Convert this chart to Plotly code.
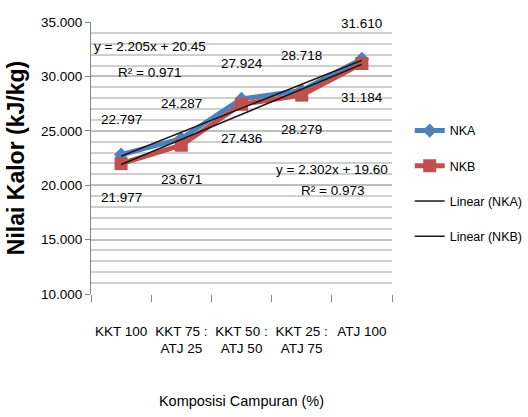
import numpy as np
import plotly.graph_objects as go

categories = ["KKT 100", "KKT 75 :<br>ATJ 25", "KKT 50 :<br>ATJ 50", "KKT 25 :<br>ATJ 75", "ATJ 100"]
nka = [22.797, 24.287, 27.924, 28.718, 31.610]
nkb = [21.977, 23.671, 27.436, 28.279, 31.184]
y_ticks = [10, 15, 20, 25, 30, 35]
y_tick_labels = ["10.000", "15.000", "20.000", "25.000", "30.000", "35.000"]
eq_nka = ["y = 2.205x + 20.45", "R² = 0.971"]
eq_nkb = ["y = 2.302x + 19.60", "R² = 0.973"]

FONT = "Liberation Sans, Arial, sans-serif"
BLUE = "#4F81BD"
RED = "#C0504D"
FS = 13.5

xs = np.arange(1, len(categories) + 1)
fit_a = np.polyfit(xs, nka, 1)
fit_b = np.polyfit(xs, nkb, 1)
trend_a = np.polyval(fit_a, xs)
trend_b = np.polyval(fit_b, xs)

fig = go.Figure()
fig.add_trace(go.Scatter(x=categories, y=nka, name="NKA", mode="lines+markers",
                         line=dict(color=BLUE, width=5),
                         marker=dict(symbol="diamond", size=11, color=BLUE),
                         legendgroup="a"))
fig.add_trace(go.Scatter(x=categories, y=nkb, name="NKB", mode="lines+markers",
                         line=dict(color=RED, width=5),
                         marker=dict(symbol="square", size=13, color=RED),
                         legendgroup="b"))
fig.add_trace(go.Scatter(x=categories, y=trend_a, name="Linear (NKA)", mode="lines",
                         line=dict(color="#1a1a1a", width=1.5), legendgroup="c"))
fig.add_trace(go.Scatter(x=categories, y=trend_b, name="Linear (NKB)", mode="lines",
                         line=dict(color="#1a1a1a", width=1.5), legendgroup="d"))

annotations = []
for i, v in enumerate(nka):
    annotations.append(dict(x=i, y=v, xref="x", yref="y", text=f"{v:.3f}", showarrow=False,
                            yshift=35, font=dict(family=FONT, size=FS, color="black")))
for i, v in enumerate(nkb):
    annotations.append(dict(x=i, y=v, xref="x", yref="y", text=f"{v:.3f}", showarrow=False,
                            yshift=-34, font=dict(family=FONT, size=FS, color="black")))

for txt, yy in zip(eq_nka, [32.79, 30.40]):
    annotations.append(dict(x=0.472, y=yy, xref="x", yref="y", text=txt, showarrow=False,
                            font=dict(family=FONT, size=FS, color="black")))
for txt, yy in zip(eq_nkb, [21.40, 19.50]):
    annotations.append(dict(x=3.505, y=yy, xref="x", yref="y", text=txt, showarrow=False,
                            font=dict(family=FONT, size=FS, color="black")))

fig.update_layout(
    width=528, height=417,
    margin=dict(l=91, r=136, t=22, b=123),
    paper_bgcolor="white", plot_bgcolor="white",
    font=dict(family=FONT, size=FS, color="black"),
    showlegend=True,
    legend=dict(xref="container", yref="container", x=0.776, y=0.722,
                xanchor="left", yanchor="top",
                font=dict(family=FONT, size=12.5, color="black"),
                tracegroupgap=16, itemwidth=30, bgcolor="rgba(0,0,0,0)"),
    annotations=annotations,
    xaxis=dict(type="category", showgrid=False, showline=False, zeroline=False,
               automargin=False,
               ticks="outside", tickson="boundaries", ticklen=7, tickcolor="#888888",
               tickangle=0,
               tickfont=dict(family=FONT, size=FS, color="black"),
               ticklabelstandoff=27,
               title=dict(text="Komposisi Campuran (%)", standoff=40,
                          font=dict(family=FONT, size=14.5, color="black")),
               range=[-0.5, 4.5]),
    yaxis=dict(range=[10, 35], tickvals=y_ticks, ticktext=y_tick_labels,
               automargin=False,
               showgrid=True, gridcolor="#BEBEBE", gridwidth=1.5,
               minor=dict(dtick=1, showgrid=True, gridcolor="#CFCFCF", gridwidth=1.5, ticks=""),
               showline=True, linecolor="#888888", linewidth=1,
               ticks="outside", ticklen=5, tickcolor="#888888", zeroline=False,
               tickfont=dict(family=FONT, size=FS, color="black"),
               title=dict(text="<b>Nilai Kalor (kJ/kg)</b>", standoff=9,
                          font=dict(family=FONT, size=23, color="black"))),
)

fig.write_html("out.html", config={"displayModeBar": False},
               post_script="document.body.style.margin='0';")
